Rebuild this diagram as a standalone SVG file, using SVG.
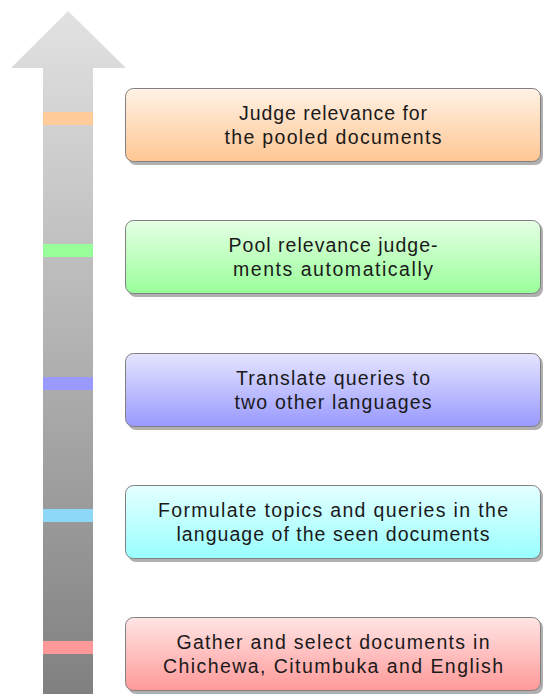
<svg xmlns="http://www.w3.org/2000/svg" width="543" height="694" viewBox="0 0 543 694">
<defs>
<linearGradient id="shaft" x1="0" y1="11" x2="0" y2="694" gradientUnits="userSpaceOnUse">
<stop offset="0" stop-color="#e2e2e2"/>
<stop offset="1" stop-color="#808080"/>
</linearGradient>
<linearGradient id="gO" x1="0" y1="0" x2="0" y2="1"><stop offset="0" stop-color="#fff2e5"/><stop offset="1" stop-color="#ffc693"/></linearGradient>
<linearGradient id="gG" x1="0" y1="0" x2="0" y2="1"><stop offset="0" stop-color="#e5ffe5"/><stop offset="1" stop-color="#99ff99"/></linearGradient>
<linearGradient id="gB" x1="0" y1="0" x2="0" y2="1"><stop offset="0" stop-color="#e5e5ff"/><stop offset="1" stop-color="#9999ff"/></linearGradient>
<linearGradient id="gC" x1="0" y1="0" x2="0" y2="1"><stop offset="0" stop-color="#e5ffff"/><stop offset="1" stop-color="#99ffff"/></linearGradient>
<linearGradient id="gR" x1="0" y1="0" x2="0" y2="1"><stop offset="0" stop-color="#ffe5e5"/><stop offset="1" stop-color="#ff9999"/></linearGradient>
</defs>
<style>
.box{stroke:#808080;stroke-width:1}
.shadow{fill:#b0b0b0}
.t{font-family:"Liberation Sans",Arial,sans-serif;font-size:19.5px;fill:#1a1a1a;text-anchor:middle}
</style>
<g id="timeline">
<polygon points="68,11 126,68 93,68 93,694 43,694 43,68 11,68" fill="url(#shaft)"/>
<rect x="43" y="112" width="50" height="13" fill="#ffcc99"/>
<rect x="43" y="244" width="50" height="13" fill="#99ff99"/>
<rect x="43" y="377" width="50" height="13" fill="#9999ff"/>
<rect x="43" y="509" width="50" height="13" fill="#8dd8f8"/>
<rect x="43" y="641" width="50" height="13" fill="#ff9999"/>
</g>
<g id="step5">
<rect class="shadow" x="128" y="91" width="415" height="74" rx="8"/>
<rect class="box" x="125.5" y="88.5" width="415" height="73" rx="8" fill="url(#gO)"/>
<text class="t" x="333" y="119.5" textLength="188" lengthAdjust="spacing">Judge relevance for</text>
<text class="t" x="333" y="143.5" textLength="217" lengthAdjust="spacing">the pooled documents</text>
</g>
<g id="step4">
<rect class="shadow" x="128" y="223" width="415" height="74" rx="8"/>
<rect class="box" x="125.5" y="220.5" width="415" height="73" rx="8" fill="url(#gG)"/>
<text class="t" x="333" y="251.5" textLength="209" lengthAdjust="spacing">Pool relevance judge-</text>
<text class="t" x="333" y="275.5" textLength="200" lengthAdjust="spacing">ments automatically</text>
</g>
<g id="step3">
<rect class="shadow" x="128" y="356" width="415" height="74" rx="8"/>
<rect class="box" x="125.5" y="353.5" width="415" height="73" rx="8" fill="url(#gB)"/>
<text class="t" x="333" y="384.5" textLength="194" lengthAdjust="spacing">Translate queries to</text>
<text class="t" x="333" y="408.5" textLength="197" lengthAdjust="spacing">two other languages</text>
</g>
<g id="step2">
<rect class="shadow" x="128" y="488" width="415" height="74" rx="8"/>
<rect class="box" x="125.5" y="485.5" width="415" height="73" rx="8" fill="url(#gC)"/>
<text class="t" x="333" y="516.5" textLength="350" lengthAdjust="spacing">Formulate topics and queries in the</text>
<text class="t" x="333" y="540.5" textLength="313" lengthAdjust="spacing">language of the seen documents</text>
</g>
<g id="step1">
<rect class="shadow" x="128" y="620" width="415" height="74" rx="8"/>
<rect class="box" x="125.5" y="617.5" width="415" height="73" rx="8" fill="url(#gR)"/>
<text class="t" x="333" y="648.5" textLength="313" lengthAdjust="spacing">Gather and select documents in</text>
<text class="t" x="333" y="672.5" textLength="340" lengthAdjust="spacing">Chichewa, Citumbuka and English</text>
</g>
<g id="connectors"></g>
</svg>
